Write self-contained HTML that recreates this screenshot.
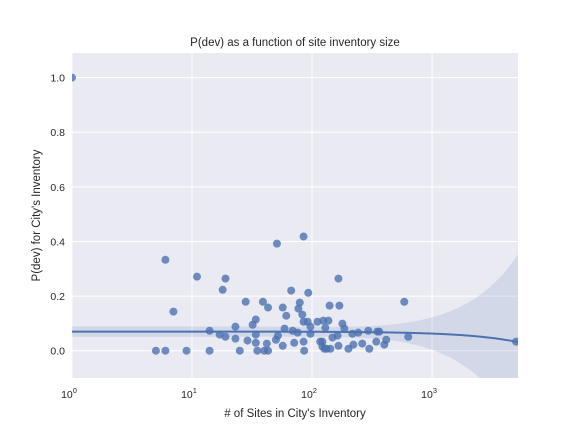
<!DOCTYPE html>
<html><head><meta charset="utf-8"><style>
body{margin:0;background:#fff;font-family:"Liberation Sans","DejaVu Sans",sans-serif}
svg text{font-family:"Liberation Sans","DejaVu Sans",sans-serif;fill:#262626}
</style></head><body>
<svg id="chart" width="576" height="432">
</svg>
<script>
const xs = [1,5,6,9,14,6,7,11,19,18,51,85,14,17,19,23,23,28,25,29,32,34,34,34,35,39,43,42,40,43,50,57,61,59,52,57,67,69,79,77,83,85,76,71,85,86,93,92,97,97,111,124,137,129,140,122,122,132,142,148,166,166,169,163,179,186,217,243,294,350,363,633,587,117,127,201,221,262,300,343,400,415,5000];
const ys = [1.0,0,0,0,0,.333,.143,.271,.264,.223,.392,.418,.073,.059,.051,.088,.044,.179,0,.037,.095,.114,.059,.029,0,.179,.158,.026,0,0,.040,.158,.128,.081,.055,.018,.220,.073,.176,.154,.132,.106,.066,.029,.033,0,.212,.106,.088,.062,.106,.110,.110,.084,.165,.033,.015,.007,.007,.048,.264,.018,.165,.055,.099,.081,.062,.066,.073,.070,.070,.051,.179,.033,.007,.007,.022,.026,.007,.033,.022,.040,.033];
const yTicks = [0.0,0.2,0.4,0.6,0.8,1.0];
const xTickExps = [0,1,2,3];
const fitIntercept = 0.07, fitSlope = -7.4e-6, ciBase = 0.018, ciSlope = 6.3e-5, ciCenter = 100;

const L=72,R=518,T=53,B=378;
const xMinL=0, xMaxL=Math.log10(5200), yMin=-0.1, yMax=1.09;
const X=v=>L+(Math.log10(v)-xMinL)/(xMaxL-xMinL)*(R-L);
const Y=v=>B-(v-yMin)/(yMax-yMin)*(B-T);
const NS="http://www.w3.org/2000/svg";
const svg=document.getElementById('chart');
function mk(tag,attrs,parent){const e=document.createElementNS(NS,tag);for(const k in attrs)e.setAttribute(k,attrs[k]);(parent||svg).appendChild(e);return e;}

const clip=mk('clipPath',{id:'clip'});mk('rect',{x:L,y:T,width:R-L,height:B-T},clip);
const bg=mk('rect',{x:L,y:T,width:R-L,height:B-T,fill:'#eaeaf2'});



yTicks.forEach(t=>{
  const g=mk('line',{x1:L,x2:R,y1:Y(t),y2:Y(t),stroke:'#fff','stroke-width':1});
  
  
  const tx=mk('text',{x:L-7,y:Y(t)+4,'text-anchor':'end','font-size':'10.5'});
  tx.textContent=t.toFixed(1);
  
  
});
xTickExps.forEach(e=>{
  const x=X(Math.pow(10,e));
  const g=mk('line',{x1:x,x2:x,y1:T,y2:B,stroke:'#fff','stroke-width':1});
  
  
  const tx=mk('text',{x:x-3,y:B+20,'text-anchor':'middle','font-size':'10.5'});
  tx.textContent='10';
  const sp=mk('tspan',{dy:-5,'font-size':'7.5'},tx);sp.textContent=e;
  
  
});

const gp=mk('g',{'clip-path':'url(#clip)'});
let up=[],lo=[],line=[];
for(let i=0;i<=200;i++){
  const lx=xMinL+(xMaxL-xMinL)*i/200, x=Math.pow(10,lx);
  const c=fitIntercept+fitSlope*x;
  const h=Math.sqrt(ciBase*ciBase+Math.pow(ciSlope*(x-ciCenter),2));
  up.push(X(x)+','+Y(c+h));lo.unshift(X(x)+','+Y(c-h));line.push(X(x)+','+Y(c));
}
const band=mk('polygon',{points:up.concat(lo).join(' '),fill:'#4c72b0','fill-opacity':0.15},gp);



xs.forEach((x,i)=>{
  const c=mk('circle',{cx:X(x),cy:Y(ys[i]),r:4,fill:'#4c72b0','fill-opacity':0.8},gp);
  
  
});
const rl=mk('polyline',{points:line.join(' '),fill:'none',stroke:'#4c72b0','stroke-width':2},gp);



const t=mk('text',{x:(L+R)/2,y:46,'text-anchor':'middle','font-size':'11.5'});
t.textContent='P(dev) as a function of site inventory size';


const xl=mk('text',{x:(L+R)/2,y:417,'text-anchor':'middle','font-size':'11.5'});
xl.textContent="# of Sites in City's Inventory";


const yl=mk('text',{x:0,y:0,'text-anchor':'middle','font-size':'11.5',transform:'translate(40,'+((T+B)/2)+') rotate(-90)'});
yl.textContent="P(dev) for City's Inventory";


</script>
</body></html>
